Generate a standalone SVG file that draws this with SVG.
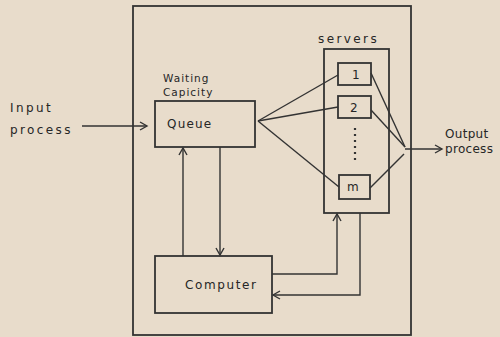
<svg xmlns="http://www.w3.org/2000/svg" width="500" height="337" viewBox="0 0 500 337">
<style>
.box{fill:none;stroke:#333;stroke-width:1.8}
.ln{fill:none;stroke:#333;stroke-width:1.4}
text{font-family:"DejaVu Sans","Liberation Sans",sans-serif;fill:#262626;font-size:12px}
.wide{letter-spacing:2.4px}
.small{font-size:10.5px;letter-spacing:1px}
</style>
<defs>
<marker id="ah" markerWidth="10" markerHeight="10" refX="8" refY="5" orient="auto" markerUnits="userSpaceOnUse">
<path d="M1,1 L8,5 L1,9" fill="none" stroke="#333" stroke-width="1.4"/>
</marker>
</defs>
<rect width="500" height="337" fill="#e8dccb"/>
<g id="system"><rect class="box" x="133" y="6" width="278" height="329"/></g>
<g id="input"><text class="wide" x="10" y="112">Input</text><text class="wide" x="10" y="134">process</text></g>
<g id="queue"><rect class="box" x="155" y="101" width="100" height="46"/><text class="small" x="163" y="82">Waiting</text><text class="small" x="163" y="96">Capicity</text><text x="167" y="128" style="letter-spacing:1.2px">Queue</text></g>
<g id="servers"><rect class="box" x="324" y="49" width="65" height="164"/><text class="wide" x="318" y="43">servers</text></g>
<g id="server1"><rect class="box" x="338" y="63" width="33" height="22"/><text x="352" y="79">1</text></g>
<g id="server2"><rect class="box" x="338" y="96" width="33" height="22"/><text x="350" y="112">2</text></g>
<g id="dots"><line x1="355" y1="128" x2="355" y2="162" stroke="#333" stroke-width="2.2" stroke-dasharray="2,4"/></g>
<g id="serverm"><rect class="box" x="339" y="175" width="31" height="24"/><text x="347" y="191" font-size="11">m</text></g>
<g id="computer"><rect class="box" x="155" y="256" width="117" height="57"/><text x="185" y="289" style="letter-spacing:1.6px">Computer</text></g>
<g id="output"><text x="445" y="138" style="letter-spacing:0.3px">Output</text><text x="445" y="153" style="letter-spacing:0.3px">process</text></g>
<g id="connectors">
<line class="ln" x1="82" y1="126" x2="147" y2="126" marker-end="url(#ah)"/>
<line class="ln" x1="258" y1="121" x2="338" y2="75"/>
<line class="ln" x1="258" y1="121" x2="338" y2="107"/>
<line class="ln" x1="258" y1="121" x2="339" y2="187"/>
<line class="ln" x1="371" y1="73" x2="405" y2="147"/>
<line class="ln" x1="371" y1="110" x2="405" y2="147"/>
<line class="ln" x1="370" y1="188" x2="404" y2="154"/>
<line class="ln" x1="405" y1="149" x2="442" y2="149" marker-end="url(#ah)"/>
<line class="ln" x1="183" y1="256" x2="183" y2="148" marker-end="url(#ah)"/>
<line class="ln" x1="220" y1="147" x2="220" y2="255" marker-end="url(#ah)"/>
<polyline class="ln" points="272,274 337,274 337,214" marker-end="url(#ah)"/>
<polyline class="ln" points="360,213 360,295 273,295" marker-end="url(#ah)"/>
</g>
</svg>
